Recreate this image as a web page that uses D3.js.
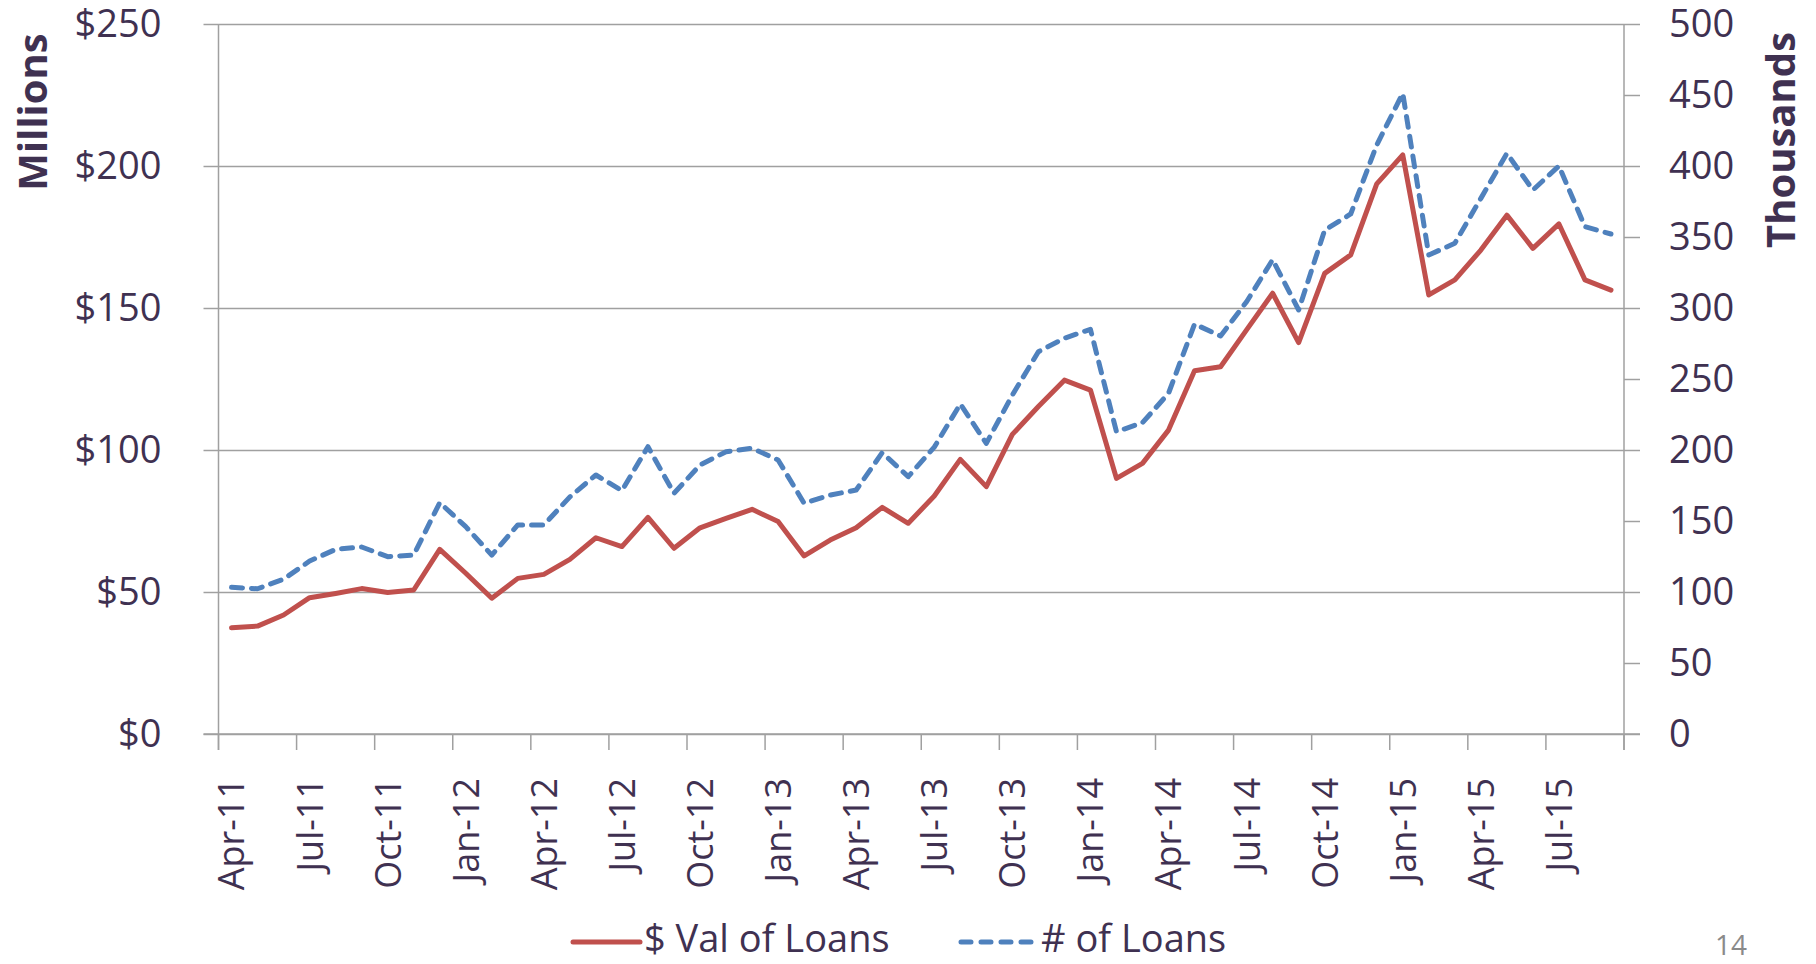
<!DOCTYPE html>
<html>
<head>
<meta charset="utf-8">
<script src="https://cdn.jsdelivr.net/npm/d3@7/dist/d3.min.js"></script>
<style>
  body { margin: 0; background: #fff; }
  svg { display: block; font-family: "Open Sans", sans-serif; }
</style>
</head>
<body>
<svg width="1816" height="964"></svg>
<script>
/*
Data
*/

const months = [
	"Apr-11","May-11","Jun-11","Jul-11","Aug-11","Sep-11","Oct-11","Nov-11","Dec-11",
	"Jan-12","Feb-12","Mar-12","Apr-12","May-12","Jun-12","Jul-12","Aug-12","Sep-12",
	"Oct-12","Nov-12","Dec-12","Jan-13","Feb-13","Mar-13","Apr-13","May-13","Jun-13",
	"Jul-13","Aug-13","Sep-13","Oct-13","Nov-13","Dec-13","Jan-14","Feb-14","Mar-14",
	"Apr-14","May-14","Jun-14","Jul-14","Aug-14","Sep-14","Oct-14","Nov-14","Dec-14",
	"Jan-15","Feb-15","Mar-15","Apr-15","May-15","Jun-15","Jul-15","Aug-15","Sep-15"
];

// $ value of loans, millions
const valLoans = [
	37.4, 38.0, 41.9, 48.0, 49.5, 51.2, 49.8, 50.7, 65.0,
	56.6, 47.8, 54.8, 56.2, 61.5, 69.1, 66.0, 76.3, 65.4,
	72.6, 75.9, 79.1, 74.8, 62.7, 68.3, 72.6, 79.8, 74.2,
	83.8, 96.7, 87.1, 105.5, 115.3, 124.6, 121.1, 90.0, 95.3,
	107.0, 127.9, 129.3, 142.3, 155.2, 137.8, 162.2, 168.7, 193.7,
	203.9, 154.6, 159.9, 170.4, 182.7, 171.0, 179.6, 159.9, 156.3
];

// number of loans, thousands
const numLoans = [
	103.3, 102.3, 109.0, 121.8, 130.0, 131.7, 124.9, 126.0, 162.9,
	146.0, 126.0, 147.2, 147.2, 167.0, 182.4, 171.4, 202.3, 169.5,
	189.4, 198.8, 201.2, 193.0, 162.5, 168.3, 171.8, 198.1, 181.2,
	202.0, 232.4, 204.7, 238.7, 269.2, 278.7, 285.0, 212.9, 219.2,
	239.9, 288.7, 280.3, 304.4, 334.0, 298.6, 354.9, 366.2, 414.8,
	451.2, 337.3, 345.6, 377.2, 408.9, 383.1, 400.0, 357.3, 352.1
];

const leftTicks = [0, 50, 100, 150, 200, 250];
const rightTicks = [0, 50, 100, 150, 200, 250, 300, 350, 400, 450, 500];
const seriesNames = ["$ Val of Loans", "# of Loans"];

/*
Colors
*/

const textColor = '#3f3151';
const gridColor = '#a0a0a0';
const valColor = '#c0504d';
const numColor = '#4f81bd';

/*
Layout
*/

var svg = d3.select('svg');
const plotLeft = 218.5, plotRight = 1624, plotTop = 24, plotBottom = 734;

var x = d3.scaleBand()
	.domain(months)
	.range([plotLeft, plotRight])
	.padding(0);

var yL = d3.scaleLinear().domain([0, 250]).range([plotBottom, plotTop]);
var yR = d3.scaleLinear().domain([0, 500]).range([plotBottom, plotTop]);

// gridlines (left axis with long ticks)
var grid = svg.append('g')
	.attr('transform', 'translate(' + plotLeft + ',0)')
	.call(d3.axisLeft(yL).tickValues(leftTicks).tickSize(-(plotRight - plotLeft)).tickFormat(''));
grid.select('.domain').remove();
grid.selectAll('line').attr('stroke', gridColor).attr('stroke-width', 1.5);

// left axis
var axL = svg.append('g')
	.attr('transform', 'translate(' + plotLeft + ',0)')
	.call(d3.axisLeft(yL).tickValues(leftTicks).tickSize(15).tickSizeOuter(0).tickPadding(42)
		.tickFormat(function(d){ return '$' + d; }));
axL.select('.domain').attr('stroke', gridColor).attr('stroke-width', 1.5)
	.attr('d', 'M0,' + plotTop + 'V' + (plotBottom + 16));
axL.selectAll('line').attr('stroke', gridColor).attr('stroke-width', 1.5);
axL.selectAll('text').attr('fill', textColor).style('font-size', '38px')
	.style('font-family', '"Open Sans", sans-serif');

// right axis
var axR = svg.append('g')
	.attr('transform', 'translate(' + plotRight + ',0)')
	.call(d3.axisRight(yR).tickValues(rightTicks).tickSize(16).tickSizeOuter(0).tickPadding(29));
axR.select('.domain').attr('stroke', gridColor).attr('stroke-width', 1.5)
	.attr('d', 'M0,' + plotTop + 'V' + (plotBottom + 16));
axR.selectAll('line').attr('stroke', gridColor).attr('stroke-width', 1.5);
axR.selectAll('text').attr('fill', textColor).style('font-size', '38px')
	.style('font-family', '"Open Sans", sans-serif');

// bottom axis line
svg.append('line')
	.attr('x1', plotLeft - 15).attr('x2', plotRight + 16)
	.attr('y1', plotBottom).attr('y2', plotBottom)
	.attr('stroke', gridColor).attr('stroke-width', 1.5);

// category ticks every 3 months, on band edges
var tickMonths = months.filter(function(d, i){ return i % 3 == 0; });
svg.append('g').selectAll('line')
	.data(tickMonths.concat(['end']))
	.enter().append('line')
		.attr('x1', function(d){ return d == 'end' ? x.range()[1] : x(d); })
		.attr('x2', function(d){ return d == 'end' ? x.range()[1] : x(d); })
		.attr('y1', plotBottom).attr('y2', plotBottom + 16)
		.attr('stroke', gridColor).attr('stroke-width', 1.5);

// category labels, rotated
svg.append('g').selectAll('text')
	.data(tickMonths)
	.enter().append('text')
		.attr('transform', function(d){
			return 'translate(' + (x(d) + x.bandwidth() / 2) + ',' + (plotBottom + 44) + ') rotate(-90)';
		})
		.attr('text-anchor', 'end')
		.attr('dy', '0.36em')
		.attr('fill', textColor)
		.style('font-size', '36px')
		.text(function(d){ return d; });

// axis titles
svg.append('text')
	.attr('transform', 'translate(33,112) rotate(-90)')
	.attr('text-anchor', 'middle').attr('dy', '0.36em')
	.attr('fill', textColor).style('font-size', '40px').style('font-weight', 700)
	.text('Millions');

svg.append('text')
	.attr('transform', 'translate(1781,140) rotate(-90)')
	.attr('text-anchor', 'middle').attr('dy', '0.36em')
	.attr('fill', textColor).style('font-size', '40px').style('font-weight', 700)
	.text('Thousands');

/*
Lines
*/

function cx(d, i){ return x(months[i]) + x.bandwidth() / 2; }

var valLine = d3.line().x(cx).y(function(d){ return yL(d); });
var numLine = d3.line().x(cx).y(function(d){ return yR(d); });

svg.append('path')
	.datum(numLoans)
	.attr('d', numLine)
	.attr('fill', 'none')
	.attr('stroke', numColor)
	.attr('stroke-width', 5)
	.attr('stroke-linecap', 'round')
	.attr('stroke-linejoin', 'round')
	.attr('stroke-dasharray', '11,9');

svg.append('path')
	.datum(valLoans)
	.attr('d', valLine)
	.attr('fill', 'none')
	.attr('stroke', valColor)
	.attr('stroke-width', 5)
	.attr('stroke-linecap', 'round')
	.attr('stroke-linejoin', 'round');

/*
Legend
*/

var legend = svg.append('g');
legend.append('line')
	.attr('x1', 573).attr('x2', 640).attr('y1', 942).attr('y2', 942)
	.attr('stroke', valColor).attr('stroke-width', 5).attr('stroke-linecap', 'round');
legend.append('text')
	.attr('x', 644).attr('y', 952)
	.attr('fill', textColor).style('font-size', '38px')
	.text(seriesNames[0]);
legend.append('line')
	.attr('x1', 961).attr('x2', 1038).attr('y1', 942).attr('y2', 942)
	.attr('stroke', numColor).attr('stroke-width', 5).attr('stroke-linecap', 'round')
	.attr('stroke-dasharray', '10,10');
legend.append('text')
	.attr('x', 1041).attr('y', 952)
	.attr('fill', textColor).style('font-size', '38px')
	.text(seriesNames[1]);

// page number
svg.append('text')
	.attr('x', 1747).attr('y', 955).attr('text-anchor', 'end')
	.attr('fill', '#8a8a8a').style('font-size', '28px')
	.text('14');
</script>
</body>
</html>
